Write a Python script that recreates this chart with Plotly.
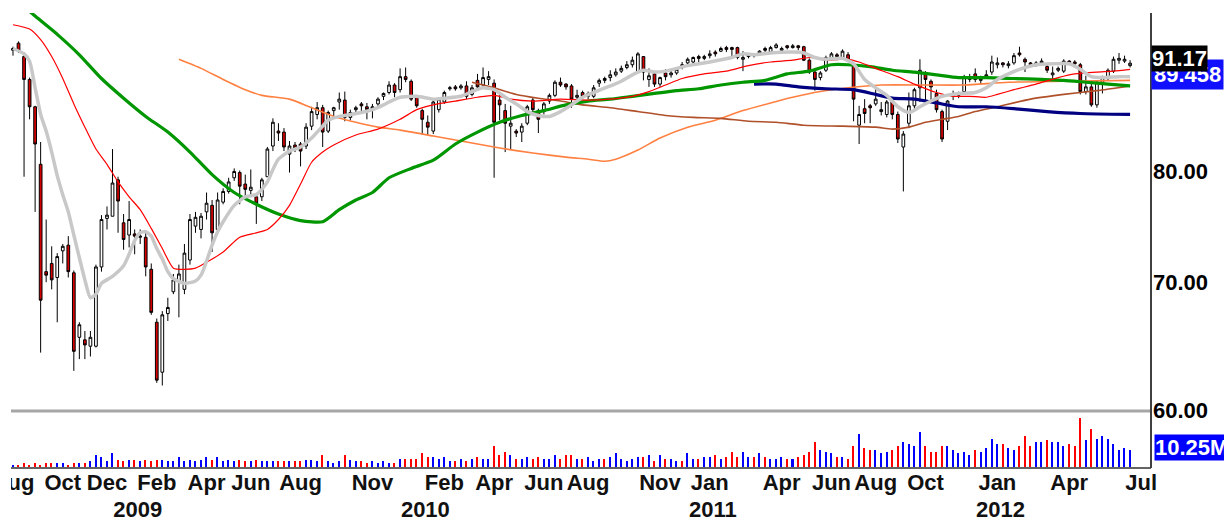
import numpy as np
import pandas as pd
import plotly.graph_objects as go

FIRST_WEEK = "2008-08-04"

# weekly candles, Aug 2008 - Jun 2012
OPEN = [
    92.6, 93.4, 91.9, 89.4, 86.5, 80.7, 70.9, 71.6, 70.4, 72.7,
    73.2, 70.8, 65.5, 65.3, 64.8, 64.8, 71.3, 75.6, 75.8, 79.2,
    75.2, 74.1, 74.2, 73.9, 73.9, 71.1, 66.7, 62.8, 67.4, 69.2,
    70.1, 69.4, 71.9, 74.9, 74.6, 76.2, 76.8, 74.6, 77.1, 78.1,
    79.4, 79.9, 78.8, 78.2, 77.6, 77.6, 79.5, 82.5, 84.0, 83.9,
    81.7, 82.6, 82.7, 82.5, 84.5, 85.7, 86.4, 84.0, 86.1, 87.0,
    87.2, 85.4, 86.2, 86.8, 86.5, 86.2, 86.8, 87.6, 88.0, 88.8,
    88.3, 89.7, 89.2, 87.5, 86.1, 84.9, 84.0, 86.2, 87.0, 88.4,
    88.6, 88.5, 88.7, 87.8, 89.3, 88.8, 89.4, 89.0, 87.2, 86.1,
    84.5, 84.0, 83.9, 84.8, 87.2, 86.1, 86.0, 87.1, 87.7, 89.1,
    88.9, 88.7, 87.5, 88.0, 87.6, 87.6, 89.0, 89.5, 89.6, 89.9,
    90.3, 90.7, 91.0, 90.2, 91.9, 89.4, 90.0, 88.9, 90.1, 89.9,
    90.1, 91.0, 91.2, 91.3, 91.9, 91.7, 92.0, 92.4, 92.5, 92.9,
    92.9, 92.9, 91.6, 91.9, 92.2, 92.2, 92.8, 92.4, 92.9, 92.6,
    93.1, 92.9, 93.1, 93.0, 91.5, 90.2, 89.6, 90.4, 91.7, 92.1,
    91.8, 92.1, 91.1, 84.6, 86.3, 86.6, 86.8, 86.0, 85.7, 87.0,
    85.7, 82.4, 84.8, 86.6, 88.5, 90.0, 89.2, 87.9, 86.0, 85.0,
    87.6, 87.7, 88.1, 89.4, 90.0, 89.3, 89.7, 90.2, 91.0, 91.2,
    90.9, 91.2, 92.3, 91.6, 91.2, 91.0, 91.2, 90.8, 89.9, 90.4,
    90.3, 91.4, 91.3, 91.0, 88.1, 88.6, 86.7, 89.1, 89.5, 90.3,
    91.5, 91.4, 90.9,
]
HIGH = [
    93.0, 93.6, 92.4, 89.6, 86.6, 82.9, 75.5, 73.1, 72.5, 73.3,
    74.0, 71.0, 66.7, 66.0, 66.0, 71.5, 75.9, 76.7, 82.2, 79.5,
    76.0, 77.2, 74.6, 74.6, 74.3, 71.6, 67.0, 67.6, 68.7, 70.7,
    71.5, 73.3, 76.0, 76.2, 76.1, 78.0, 77.3, 78.0, 78.4, 79.4,
    80.3, 80.1, 79.7, 80.2, 77.8, 79.4, 82.4, 85.3, 84.8, 84.3,
    83.0, 82.9, 82.9, 84.8, 86.5, 87.0, 86.7, 86.1, 86.5, 88.0,
    88.1, 86.2, 86.6, 87.0, 86.9, 86.8, 87.5, 88.0, 89.2, 89.0,
    90.6, 90.7, 89.4, 87.7, 86.3, 85.6, 87.2, 87.5, 88.2, 88.7,
    88.8, 88.9, 89.2, 88.8, 90.0, 90.7, 90.3, 89.4, 88.0, 86.8,
    86.6, 84.2, 84.8, 86.7, 87.5, 86.3, 87.0, 87.9, 89.3, 89.6,
    89.0, 88.9, 88.3, 88.2, 88.1, 88.8, 89.5, 89.7, 90.4, 90.6,
    90.9, 91.4, 91.9, 92.4, 91.9, 90.6, 90.1, 89.7, 90.5, 90.4,
    90.6, 91.3, 91.8, 91.9, 92.1, 92.1, 92.6, 92.6, 93.0, 93.1,
    93.0, 93.0, 92.5, 92.3, 92.3, 92.6, 93.0, 93.1, 93.4, 93.0,
    93.2, 93.3, 93.2, 93.1, 91.7, 90.5, 90.3, 92.0, 92.4, 92.3,
    92.7, 92.4, 91.2, 86.6, 87.3, 86.8, 88.5, 87.0, 87.2, 87.3,
    86.0, 84.0, 88.0, 88.5, 91.6, 90.3, 89.4, 88.3, 86.2, 87.2,
    88.2, 88.1, 89.9, 90.0, 90.6, 89.8, 90.4, 92.0, 91.8, 91.3,
    91.4, 92.3, 93.0, 91.8, 91.3, 91.4, 91.7, 91.0, 90.8, 90.8,
    91.6, 91.5, 91.5, 91.2, 89.8, 88.9, 89.3, 89.8, 90.6, 91.9,
    92.3, 92.0, 91.5,
]
LOW = [
    92.0, 92.3, 79.5, 85.2, 76.2, 64.3, 70.0, 69.4, 66.7, 71.6,
    70.4, 62.9, 63.8, 63.8, 64.0, 64.7, 70.9, 74.6, 75.8, 74.3,
    72.8, 73.0, 72.4, 73.3, 70.5, 67.3, 62.0, 61.8, 66.8, 69.0,
    67.1, 69.0, 71.5, 74.3, 73.8, 75.5, 72.6, 74.3, 76.9, 77.9,
    79.1, 76.9, 77.6, 77.6, 75.1, 77.2, 79.5, 82.0, 83.0, 82.0,
    79.9, 81.9, 80.5, 82.2, 84.1, 85.2, 82.4, 83.8, 85.5, 86.2,
    85.0, 85.1, 85.8, 86.0, 85.2, 85.3, 86.5, 87.2, 87.8, 87.5,
    88.0, 89.1, 87.1, 86.4, 83.6, 83.6, 83.7, 85.9, 86.8, 88.2,
    88.2, 88.3, 87.3, 87.6, 88.3, 88.5, 88.8, 79.4, 85.1, 81.9,
    82.2, 83.4, 82.9, 84.6, 85.9, 83.8, 85.7, 86.8, 87.5, 88.6,
    88.3, 86.4, 87.2, 87.3, 87.3, 87.4, 88.6, 89.0, 89.2, 89.7,
    90.1, 90.5, 90.7, 90.2, 89.3, 88.6, 88.6, 88.6, 89.3, 89.6,
    89.9, 90.5, 90.9, 91.1, 91.2, 91.5, 91.7, 91.9, 92.4, 92.4,
    91.8, 91.6, 90.3, 91.7, 91.8, 92.0, 92.4, 92.3, 92.8, 92.3,
    92.7, 92.8, 92.6, 91.4, 90.0, 88.2, 89.3, 90.2, 91.5, 91.5,
    91.6, 91.3, 85.0, 82.7, 84.8, 84.8, 86.6, 85.6, 85.4, 85.2,
    82.8, 78.1, 84.3, 86.0, 87.0, 86.8, 86.9, 85.9, 82.9, 84.1,
    87.2, 87.4, 87.8, 89.1, 89.1, 88.9, 89.5, 89.9, 90.6, 90.7,
    90.6, 91.0, 91.9, 90.2, 90.8, 90.8, 91.0, 90.1, 89.3, 90.2,
    90.1, 91.0, 90.9, 87.8, 87.8, 86.5, 86.4, 87.9, 89.3, 90.1,
    91.1, 91.2, 90.7,
]
CLOSE = [
    92.8, 92.5, 89.4, 86.5, 82.7, 68.5, 70.6, 70.2, 72.2, 73.1,
    70.9, 64.4, 66.5, 64.9, 65.5, 71.3, 75.5, 75.9, 78.9, 77.2,
    73.7, 75.5, 74.0, 74.0, 71.3, 67.5, 62.2, 67.3, 67.9, 70.2,
    70.7, 72.5, 75.5, 75.7, 75.8, 77.0, 74.3, 77.3, 78.1, 79.0,
    80.0, 78.6, 78.3, 78.5, 77.0, 79.2, 82.2, 84.9, 83.8, 82.4,
    82.5, 82.3, 82.0, 84.4, 86.0, 86.4, 83.9, 85.9, 86.4, 87.3,
    85.4, 85.9, 86.4, 86.6, 86.2, 86.5, 87.3, 87.9, 88.8, 88.0,
    89.7, 89.4, 87.3, 86.6, 85.2, 84.4, 87.0, 87.3, 88.0, 88.5,
    88.4, 88.7, 87.6, 88.5, 88.6, 89.6, 89.7, 84.9, 86.7, 84.8,
    84.8, 83.8, 84.5, 86.5, 86.2, 85.2, 86.8, 87.7, 89.1, 88.8,
    88.6, 87.3, 87.7, 87.6, 87.9, 88.5, 89.3, 89.3, 89.9, 90.2,
    90.6, 91.0, 91.5, 92.2, 90.2, 89.8, 88.9, 89.6, 89.7, 90.1,
    90.5, 90.9, 91.6, 91.8, 91.7, 91.9, 92.2, 92.2, 92.8, 92.7,
    92.7, 91.8, 91.8, 92.1, 92.0, 92.5, 92.6, 92.9, 93.2, 92.8,
    92.9, 93.1, 92.9, 91.5, 90.2, 89.4, 90.1, 91.8, 92.2, 91.9,
    92.5, 91.5, 87.3, 85.7, 85.8, 86.4, 87.3, 86.2, 87.0, 85.7,
    83.2, 83.7, 86.6, 88.3, 90.4, 89.4, 88.6, 86.2, 83.2, 87.1,
    87.8, 87.9, 89.6, 89.7, 89.4, 89.5, 89.9, 91.3, 91.2, 91.0,
    91.1, 92.0, 92.1, 91.3, 91.0, 91.2, 91.4, 90.4, 90.1, 90.6,
    91.4, 91.2, 91.1, 88.1, 88.6, 86.7, 89.1, 89.6, 90.4, 91.6,
    91.7, 91.6, 91.17,
]
# weekly volume, millions of shares
VOLUME_M = [
    1.4, 1.4, 2.5, 1.4, 2.5, 1.4, 2.5, 2.5, 2.5, 2.5,
    1.4, 2.5, 2.5, 2.5, 3.5, 7.2, 6.2, 3.5, 8.2, 4.5,
    3.5, 4.5, 4.5, 3.5, 4.5, 3.5, 4.5, 4.5, 3.5, 3.5,
    5.9, 3.5, 4.5, 3.5, 4.5, 5.9, 4.5, 5.9, 3.5, 4.5,
    3.5, 4.5, 3.5, 3.5, 4.5, 3.5, 3.5, 3.5, 3.5, 3.5,
    3.5, 3.5, 3.5, 4.5, 4.5, 3.5, 7.2, 3.5, 2.5, 3.5,
    7.2, 4.5, 3.5, 3.5, 2.5, 3.5, 2.5, 3.5, 2.5, 2.5,
    4.9, 4.9, 4.9, 4.9, 8.2, 5.9, 5.9, 4.9, 5.9, 3.5,
    3.5, 4.9, 3.5, 4.9, 5.9, 4.9, 4.9, 12.7, 7.2, 9.2,
    7.2, 4.9, 4.9, 5.9, 4.9, 5.9, 4.9, 4.9, 7.2, 4.9,
    7.2, 7.2, 4.9, 4.9, 5.9, 3.5, 4.9, 4.9, 5.9, 8.2,
    4.9, 3.5, 4.9, 5.9, 5.9, 7.2, 3.5, 7.2, 4.9, 4.9,
    3.5, 3.5, 8.2, 4.9, 4.9, 5.9, 5.9, 7.2, 4.9, 5.9,
    9.2, 5.9, 9.2, 5.9, 5.9, 8.2, 5.9, 4.9, 4.9, 5.9,
    4.9, 4.9, 5.9, 7.2, 9.2, 15.2, 10.3, 9.2, 8.2, 5.9,
    5.9, 4.9, 12.7, 19.7, 11.7, 10.3, 10.3, 8.2, 9.2, 10.3,
    12.7, 15.2, 14.1, 12.7, 20.9, 12.7, 9.2, 9.2, 12.7, 12.7,
    10.3, 8.2, 9.2, 7.2, 10.3, 9.2, 11.7, 17.2, 14.1, 14.1,
    11.7, 10.3, 12.7, 18.5, 12.7, 15.2, 15.2, 16.2, 15.2, 15.2,
    12.7, 14.1, 12.7, 29.7, 16.2, 23.0, 17.2, 18.5, 17.2, 14.1,
    10.3, 11.7, 10.25,
]

# moving averages, read at week numbers counted from FIRST_WEEK
MA10_WEEKS = [0, 2, 3, 4, 5, 6, 7, 8, 9, 10, 11, 12, 13, 14, 15, 16, 18, 20, 21, 22,
              23, 24, 25, 26, 27, 28, 29, 31, 33, 34, 35, 36, 37, 38, 40, 42, 43, 44, 45, 46,
              47, 48, 50, 52, 54, 55, 56, 57, 59, 61, 63, 65, 67, 68, 70, 73, 76, 78, 81, 83,
              85, 87, 89, 91, 93, 95, 97, 99, 101, 103, 105, 108, 110, 112, 114, 116, 118, 122, 126, 130,
              132, 134, 137, 141, 143, 145, 147, 150, 152, 154, 156, 158, 160, 162, 164, 166, 168, 171, 174, 176,
              178, 180, 182, 185, 188, 191, 193, 195, 197, 200, 202]
MA10 = [92.8, 92.2, 91.4, 88.5, 85.7, 84.0, 81.9, 79.6, 77.8, 76.2, 74.1, 72.1, 70.2, 68.7, 69.0, 69.9, 70.5, 71.4, 72.4, 73.6,
        74.3, 74.4, 74.0, 72.9, 72.0, 70.9, 70.3, 69.9, 70.1, 70.6, 71.8, 73.2, 74.4, 75.3, 76.8, 77.6, 77.7, 77.8, 78.3, 79.0,
        80.2, 81.2, 82.0, 82.4, 83.3, 83.9, 84.5, 85.1, 85.5, 85.7, 85.9, 86.2, 86.7, 87.0, 87.5, 87.6, 87.3, 87.4, 87.6, 88.1,
        88.5, 88.3, 87.5, 86.8, 86.0, 85.6, 85.5, 86.0, 86.7, 87.5, 88.0, 88.7, 89.2, 89.9, 90.4, 90.2, 90.3, 90.9, 91.3, 91.8,
        92.2, 92.1, 92.3, 92.4, 92.3, 91.8, 91.6, 91.7, 91.1, 89.4, 88.5, 87.7, 86.5, 85.9, 86.5, 87.1, 87.6, 87.9, 88.0, 88.5,
        89.4, 90.0, 90.5, 91.0, 91.1, 91.1, 90.5, 89.7, 89.6, 89.7, 89.7]

MA20_WEEKS = [0, 3, 5, 7, 9, 11, 13, 15, 17, 19, 21, 23, 25, 27, 29, 31, 33, 35, 38, 41,
              44, 46, 48, 50, 52, 54, 56, 58, 62, 66, 70, 73, 76, 80, 84, 87, 90, 94, 99, 104,
              108, 112, 115, 118, 121, 125, 129, 133, 137, 141, 144, 147, 151, 153, 156, 160, 163, 167, 170, 173,
              176, 178, 181, 185, 189, 192, 196, 199, 202]
MA20 = [95.5, 95.0, 93.8, 91.9, 89.5, 86.8, 84.4, 82.2, 80.7, 79.0, 77.6, 76.4, 74.7, 72.9, 71.2, 71.1, 71.2, 71.7, 72.6, 73.9,
        74.3, 74.6, 75.5, 76.8, 78.8, 80.9, 81.9, 82.6, 83.6, 84.2, 85.2, 86.2, 86.7, 87.1, 87.5, 87.7, 87.3, 87.1, 87.3, 87.2,
        87.3, 87.6, 88.1, 88.8, 89.5, 90.0, 90.3, 90.9, 91.3, 91.5, 91.8, 91.5, 91.6, 91.3, 90.6, 89.7, 88.9, 88.0, 87.6, 87.6,
        87.5, 87.8, 88.3, 88.9, 89.6, 90.0, 90.2, 90.3, 90.5]

MA40_WEEKS = [0, 4, 8, 12, 16, 20, 24, 28, 32, 36, 40, 44, 48, 52, 56, 59, 62, 65, 68, 72,
              76, 80, 84, 88, 92, 96, 100, 104, 108, 112, 116, 120, 124, 128, 132, 136, 140, 144, 148, 151,
              155, 159, 163, 167, 171, 176, 181, 186, 190, 194, 198, 202]
MA40 = [98.8, 96.5, 94.4, 92.1, 89.5, 87.4, 85.5, 83.9, 81.9, 79.7, 78.0, 76.9, 76.0, 75.4, 75.3, 76.4, 77.3, 78.0, 79.4, 80.3,
        81.1, 82.7, 83.9, 84.9, 85.6, 86.1, 86.7, 87.1, 87.3, 87.6, 87.9, 88.2, 88.4, 88.8, 89.1, 89.3, 90.0, 90.3, 91.0, 91.0,
        90.8, 90.4, 90.2, 89.9, 89.6, 89.6, 89.5, 89.4, 89.3, 89.1, 88.9, 88.7]

MA100_WEEKS = [30, 34, 38, 42, 45, 50, 54, 58, 62, 66, 70, 76, 82, 88, 94, 100, 104, 107, 109, 113,
               117, 122, 127, 132, 137, 141, 146, 151, 157, 165, 172, 180, 190, 202]
MA100 = [91.6, 90.6, 89.4, 88.3, 87.7, 87.3, 86.4, 85.5, 84.9, 84.4, 84.1, 83.5, 82.9, 82.3, 81.8, 81.4, 81.2, 81.0, 81.2, 82.1,
         83.3, 84.4, 85.1, 86.1, 86.9, 87.5, 88.1, 88.5, 88.8, 88.8, 88.8, 89.1, 89.2, 89.3]

MA150_WEEKS = [83, 87, 91, 95, 99, 103, 108, 113, 118, 123, 128, 133, 138, 143, 150, 156, 159, 162, 165, 168,
               171, 174, 178, 184, 190, 196, 202]
MA150 = [89.1, 88.5, 87.8, 87.4, 87.1, 86.7, 86.4, 86.0, 85.6, 85.4, 85.3, 85.0, 84.9, 84.6, 84.5, 84.4, 84.2, 84.4, 84.9, 85.2,
         85.5, 86.0, 86.5, 87.3, 87.8, 88.2, 88.7]

MA200_WEEKS = [134, 138, 142, 147, 152, 156, 159, 163, 167, 171, 176, 181, 187, 193, 202]
MA200 = [88.9, 88.9, 88.6, 88.4, 88.3, 87.8, 87.4, 87.3, 86.9, 86.5, 86.5, 86.3, 86.0, 85.8, 85.7]

MA_TAG = 89.458
PRICE_TICKS = [60, 70, 80]
MONTH_TICKS = ["2008-08-04", "2008-10-06", "2008-12-01", "2009-02-02", "2009-04-06", "2009-06-01",
               "2009-08-03", "2009-11-02", "2010-02-01", "2010-04-05", "2010-06-07", "2010-08-02",
               "2010-11-01", "2011-01-03", "2011-04-04", "2011-06-06", "2011-08-01", "2011-10-03",
               "2012-01-02", "2012-04-02", "2012-07-02"]
YEAR_TICKS = ["2009-01-05", "2010-01-04", "2011-01-03", "2012-01-02"]

# ---- page geometry (pixels) ----
W, H = 1224, 522
L, R, T = 11, 1150, 13          # chart panes span x L..R, start at y T
PRICE_BOT, VOL_TOP, VOL_BOT = 410, 413, 467
FONT = "Liberation Sans, Arial, sans-serif"
PRICE_RANGE = [np.log10(60.0), np.log10(96.86)]
VOL_RANGE = [0, 32.6]
X_START = pd.Timestamp("2008-08-01 11:30")
X_END = pd.Timestamp("2012-07-13 05:00")
# the label strip runs to the page edge, so extend its time range at the same scale
X_END_FULL = X_START + (X_END - X_START) * (W - L) / (R - L)


def py(px):
    return (H - px) / (H - T)


def pxx(px):
    return (px - L) / (W - L)


def week_dates(weeks):
    return pd.Timestamp(FIRST_WEEK) + pd.to_timedelta(np.asarray(weeks) * 7, unit="D")


dates = pd.date_range(FIRST_WEEK, periods=len(CLOSE), freq="7D")

fig = go.Figure()

ma_lines = [
    (MA100_WEEKS, MA100, "#ff8040", 1.6),
    (MA150_WEEKS, MA150, "#b0502a", 1.6),
    (MA200_WEEKS, MA200, "#000080", 3.2),
    (MA40_WEEKS, MA40, "#009600", 3.2),
    (MA20_WEEKS, MA20, "#ff0000", 1.2),
    (MA10_WEEKS, MA10, "#c8c8c8", 3.5),
]
for wk, vals, color, width in ma_lines:
    fig.add_trace(go.Scatter(x=week_dates(wk), y=vals, mode="lines", hoverinfo="skip",
                             line=dict(color=color, width=width, shape="spline", smoothing=0.6),
                             xaxis="x", yaxis="y"))

fig.add_trace(go.Candlestick(
    x=dates, open=OPEN, high=HIGH, low=LOW, close=CLOSE, whiskerwidth=0, hoverinfo="skip",
    increasing=dict(line=dict(color="#000000", width=1), fillcolor="#ffffff"),
    decreasing=dict(line=dict(color="#000000", width=1), fillcolor="#d40000"),
    xaxis="x", yaxis="y",
))

vol_colors = ["#ff0000" if c < o else "#0000ff" for o, c in zip(OPEN, CLOSE)]
fig.add_trace(go.Bar(x=dates, y=VOLUME_M, marker=dict(color=vol_colors, line=dict(width=0)),
                     width=1.9 * 86400000, hoverinfo="skip", xaxis="x2", yaxis="y2"))

# date labels live in their own strip so they get clipped at the chart's left edge
month_x = pd.to_datetime(MONTH_TICKS)
year_x = pd.to_datetime(YEAR_TICKS) + pd.Timedelta(days=4)
fig.add_trace(go.Scatter(
    x=list(month_x) + list(year_x),
    y=[-17] * len(month_x) + [-44] * len(year_x),
    text=[d.strftime("%b") for d in month_x] + [str(d.year) for d in year_x],
    mode="text", textposition="middle center", cliponaxis=True, hoverinfo="skip",
    textfont=dict(family=FONT, size=22, color="#111111", weight="bold"),
    xaxis="x3", yaxis="y3",
))

edge = pxx(R)
annotations = []
for v in PRICE_TICKS:
    annotations.append(dict(xref="paper", x=edge, xanchor="left", xshift=1, yref="y", y=np.log10(v),
                            yanchor="middle", text=f"<b>{v:.2f}</b>", showarrow=False,
                            font=dict(family=FONT, size=22, color="#000000")))
annotations.append(dict(xref="paper", x=edge, xanchor="left", xshift=1, yref="y", y=np.log10(MA_TAG),
                        yanchor="middle", yshift=4, text=f"<b>{MA_TAG:.3f}</b>", showarrow=False,
                        bgcolor="#1010ff", borderpad=2, font=dict(family=FONT, size=22, color="#ffffff")))
annotations.append(dict(xref="paper", x=edge, xanchor="left", xshift=1, yref="y", y=np.log10(CLOSE[-1]),
                        yanchor="middle", yshift=5, text=f"<b>{CLOSE[-1]:.2f}</b>", showarrow=False,
                        bgcolor="#000000", borderpad=0, font=dict(family=FONT, size=22, color="#ffffff")))
annotations.append(dict(xref="paper", x=edge, xanchor="left", xshift=4, yref="y2", y=VOLUME_M[-1],
                        yanchor="middle", yshift=3, text=f"<b>{VOLUME_M[-1]:.2f}M</b>", showarrow=False,
                        bgcolor="#0000ff", borderpad=0, font=dict(family=FONT, size=22, color="#ffffff")))

shapes = [
    dict(type="line", xref="paper", yref="paper", x0=0, x1=edge, y0=py(411), y1=py(411),
         line=dict(color="#a6a6a6", width=3)),
    dict(type="line", xref="paper", yref="paper", x0=0, x1=pxx(R + 1), y0=py(468), y1=py(468),
         line=dict(color="#303030", width=1.5)),
    dict(type="line", xref="paper", yref="paper", x0=pxx(R + 1), x1=pxx(R + 1), y0=py(468), y1=1,
         line=dict(color="#404040", width=2)),
]

hidden = dict(visible=False, showgrid=False, zeroline=False)
x_range = [X_START, X_END]
fig.update_layout(
    width=W, height=H,
    margin=dict(l=L, r=0, t=T, b=0, pad=0),
    paper_bgcolor="#ffffff", plot_bgcolor="rgba(0,0,0,0)",
    showlegend=False, hovermode=False,
    font=dict(family=FONT, size=22, color="#111111"),
    xaxis=dict(domain=[0, edge], range=x_range, type="date", anchor="y", rangeslider=dict(visible=False), **hidden),
    yaxis=dict(domain=[py(PRICE_BOT), 1], type="log", range=PRICE_RANGE, anchor="x", **hidden),
    xaxis2=dict(domain=[0, edge], range=x_range, type="date", anchor="y2", **hidden),
    yaxis2=dict(domain=[py(VOL_BOT), py(VOL_TOP)], range=VOL_RANGE, anchor="x2", **hidden),
    xaxis3=dict(domain=[0, 1], range=[X_START, X_END_FULL], type="date", anchor="y3", **hidden),
    yaxis3=dict(domain=[0, py(VOL_BOT)], range=[-55, 0], anchor="x3", **hidden),
    bargap=0,
    annotations=annotations,
    shapes=shapes,
)

# the page body has a default 8px margin; drop it so the figure sits at the window corner
fig.write_html("out.html", config={"displayModeBar": False},
               post_script="document.body.style.margin='0';")
